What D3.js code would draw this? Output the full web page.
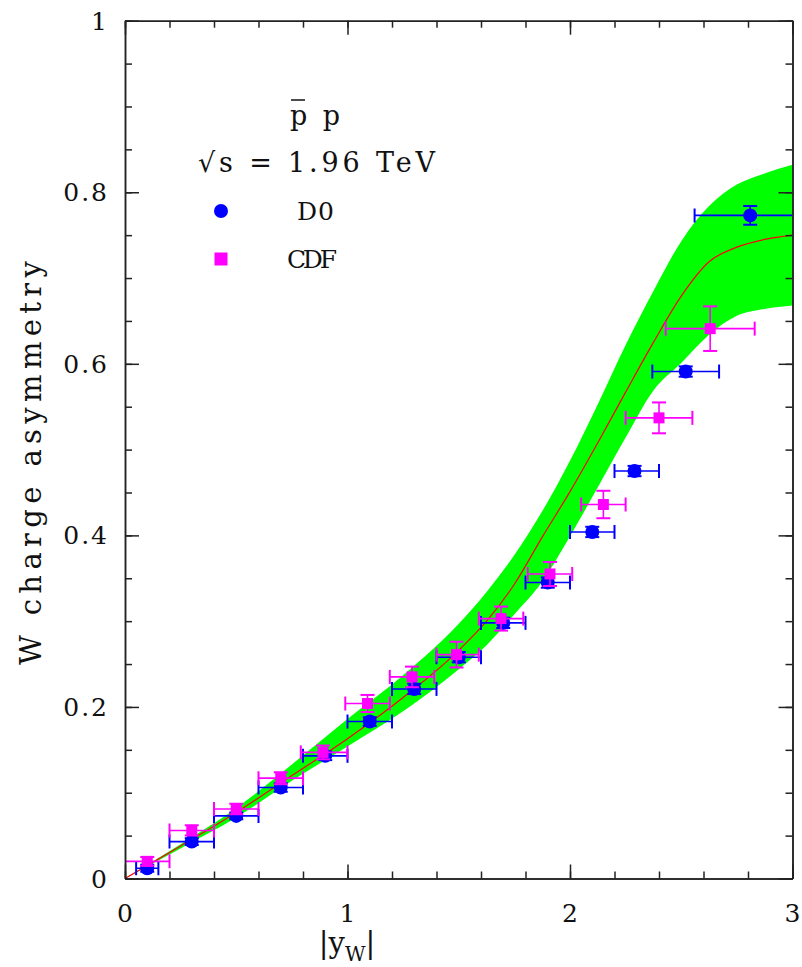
<!DOCTYPE html>
<html>
<head>
<meta charset="utf-8">
<script src="https://cdn.jsdelivr.net/npm/d3@7"></script>
<style>
  body { margin: 0; background: #fff; }
</style>
</head>
<body>
<div id="chart"></div>
<script>
// theory curve and its uncertainty band
var yw_grid   = [0, 0.25, 0.5, 0.75, 1.0, 1.25, 1.5, 1.625, 1.75, 1.875, 2.0, 2.125, 2.25, 2.375, 2.5, 2.625, 2.75, 2.875, 3.0];
var asym_mid  = [0, 0.038, 0.077, 0.120, 0.163, 0.211, 0.266, 0.300, 0.343, 0.398, 0.451, 0.508, 0.567, 0.625, 0.679, 0.719, 0.736, 0.745, 0.750];
var asym_high = [0, 0.040, 0.082, 0.133, 0.186, 0.237, 0.297, 0.334, 0.377, 0.428, 0.487, 0.553, 0.622, 0.685, 0.743, 0.784, 0.809, 0.822, 0.832];
var asym_low  = [0, 0.035, 0.071, 0.114, 0.154, 0.195, 0.244, 0.272, 0.308, 0.346, 0.399, 0.456, 0.514, 0.569, 0.601, 0.634, 0.656, 0.664, 0.668];

// D0 points: x, x range, asymmetry, error
var d0_x    = [0.10, 0.30, 0.50, 0.70, 0.90, 1.10, 1.30, 1.50, 1.70, 1.90, 2.10, 2.29, 2.52, 2.81];
var d0_xlo  = [0.05, 0.20, 0.40, 0.60, 0.80, 1.00, 1.20, 1.40, 1.60, 1.80, 2.00, 2.20, 2.37, 2.56];
var d0_xhi  = [0.15, 0.40, 0.60, 0.80, 1.00, 1.20, 1.40, 1.60, 1.80, 2.00, 2.20, 2.40, 2.67, 3.20];
var d0_y    = [0.012, 0.043, 0.073, 0.106, 0.143, 0.183, 0.221, 0.258, 0.298, 0.345, 0.404, 0.475, 0.591, 0.773];
var d0_err  = [0.004, 0.004, 0.004, 0.005, 0.005, 0.005, 0.006, 0.006, 0.006, 0.006, 0.006, 0.006, 0.006, 0.011];

// CDF points
var cdf_x   = [0.10, 0.30, 0.50, 0.70, 0.89, 1.09, 1.29, 1.49, 1.69, 1.91, 2.15, 2.40, 2.63];
var cdf_xlo = [0.00, 0.20, 0.40, 0.60, 0.79, 0.99, 1.19, 1.40, 1.59, 1.81, 2.05, 2.25, 2.43];
var cdf_xhi = [0.20, 0.40, 0.60, 0.80, 1.00, 1.19, 1.39, 1.59, 1.79, 2.01, 2.25, 2.55, 2.83];
var cdf_y   = [0.020, 0.056, 0.081, 0.117, 0.147, 0.204, 0.235, 0.261, 0.303, 0.355, 0.436, 0.537, 0.641];
var cdf_err = [0.005, 0.006, 0.006, 0.007, 0.008, 0.010, 0.012, 0.015, 0.014, 0.014, 0.016, 0.018, 0.026];

var xTickLabels = ["0", "1", "2", "3"];
var yTickLabels = ["0", "0.2", "0.4", "0.6", "0.8", "1"];

var W = 802, H = 967;
var svg = d3.select("#chart").append("svg")
  .attr("width", W).attr("height", H)
  .attr("font-family", "'DejaVu Serif', 'Liberation Serif', serif")
  .attr("fill", "#111");

var x = d3.scaleLinear().domain([0, 3]).range([125, 792.5]);
var y = d3.scaleLinear().domain([0, 1]).range([878.5, 20.7]);

svg.append("defs").append("clipPath").attr("id", "clip")
  .append("rect")
    .attr("x", x(0)).attr("y", y(1))
    .attr("width", x(3) - x(0)).attr("height", y(0) - y(1));

var plot = svg.append("g").attr("clip-path", "url(#clip)");

var band = yw_grid.map(function(v, i) { return {x: v, lo: asym_low[i], hi: asym_high[i], mid: asym_mid[i]}; });

plot.append("path")
  .datum(band)
  .attr("fill", "#00ff00")
  .attr("d", d3.area().curve(d3.curveMonotoneX)
    .x(function(d) { return x(d.x); })
    .y0(function(d) { return y(d.lo); })
    .y1(function(d) { return y(d.hi); }));

plot.append("path")
  .datum(band)
  .attr("fill", "none")
  .attr("stroke", "#ff0000")
  .attr("stroke-width", 1.2)
  .attr("d", d3.line().curve(d3.curveMonotoneX)
    .x(function(d) { return x(d.x); })
    .y(function(d) { return y(d.mid); }));

// error bars with caps
function errorBars(xs, xlo, xhi, ys, err, color) {
  var g = plot.append("g").attr("stroke", color).attr("stroke-width", 1.6).attr("fill", "none");
  var cap = 7;
  xs.forEach(function(v, i) {
    var cx = x(v), cy = y(ys[i]);
    g.append("line").attr("x1", x(xlo[i])).attr("x2", x(xhi[i])).attr("y1", cy).attr("y2", cy);
    g.append("line").attr("x1", x(xlo[i])).attr("x2", x(xlo[i])).attr("y1", cy - cap).attr("y2", cy + cap).attr("stroke-width", 2);
    g.append("line").attr("x1", x(xhi[i])).attr("x2", x(xhi[i])).attr("y1", cy - cap).attr("y2", cy + cap).attr("stroke-width", 2);
    g.append("line").attr("x1", cx).attr("x2", cx).attr("y1", y(ys[i] - err[i])).attr("y2", y(ys[i] + err[i]));
    g.append("line").attr("x1", cx - cap).attr("x2", cx + cap).attr("y1", y(ys[i] - err[i])).attr("y2", y(ys[i] - err[i])).attr("stroke-width", 2);
    g.append("line").attr("x1", cx - cap).attr("x2", cx + cap).attr("y1", y(ys[i] + err[i])).attr("y2", y(ys[i] + err[i])).attr("stroke-width", 2);
  });
}

errorBars(d0_x, d0_xlo, d0_xhi, d0_y, d0_err, "#0000ff");
plot.selectAll("circle.d0")
  .data(d0_x)
  .enter()
  .append("circle")
    .attr("class", "d0")
    .attr("cx", function(d) { return x(d); })
    .attr("cy", function(d, i) { return y(d0_y[i]); })
    .attr("r", 7)
    .attr("fill", "#0000ff");

errorBars(cdf_x, cdf_xlo, cdf_xhi, cdf_y, cdf_err, "#ff00ff");
var sq = 11;
plot.selectAll("rect.cdf")
  .data(cdf_x)
  .enter()
  .append("rect")
    .attr("class", "cdf")
    .attr("x", function(d) { return x(d) - sq / 2; })
    .attr("y", function(d, i) { return y(cdf_y[i]) - sq / 2; })
    .attr("width", sq).attr("height", sq)
    .attr("fill", "#ff00ff");

// frame with inward ticks on all four sides
var xMajor = [0, 1, 2, 3];
var xMinor = d3.range(0, 3.001, 0.2);
var yMajor = [0, 0.2, 0.4, 0.6, 0.8, 1];
var yMinor = d3.range(0, 1.001, 0.05);

function tickAxis(axis, scale, values, size, tr) {
  var g = svg.append("g").attr("transform", tr)
    .call(axis(scale).tickValues(values).tickSize(-size).tickSizeOuter(0).tickFormat(""));
  g.selectAll("line").attr("stroke", "#222").attr("stroke-width", 1.5);
  g.select(".domain").attr("stroke", "#222").attr("stroke-width", 1.5);
}
tickAxis(d3.axisBottom, x, xMinor, 7, "translate(0," + y(0) + ")");
tickAxis(d3.axisBottom, x, xMajor, 14, "translate(0," + y(0) + ")");
tickAxis(d3.axisTop, x, xMinor, 7, "translate(0," + y(1) + ")");
tickAxis(d3.axisTop, x, xMajor, 14, "translate(0," + y(1) + ")");
tickAxis(d3.axisLeft, y, yMinor, 7, "translate(" + x(0) + ",0)");
tickAxis(d3.axisLeft, y, yMajor, 14, "translate(" + x(0) + ",0)");
tickAxis(d3.axisRight, y, yMinor, 7, "translate(" + x(3) + ",0)");
tickAxis(d3.axisRight, y, yMajor, 14, "translate(" + x(3) + ",0)");

// tick labels
svg.selectAll("text.xlab")
  .data(xTickLabels)
  .enter()
  .append("text")
    .attr("class", "xlab")
    .attr("x", function(d, i) { return x(xMajor[i]); })
    .attr("y", 922)
    .attr("text-anchor", "middle")
    .style("font-size", "25px")
    .text(function(d) { return d; });

svg.selectAll("text.ylab")
  .data(yTickLabels)
  .enter()
  .append("text")
    .attr("class", "ylab")
    .attr("x", 107)
    .attr("y", function(d, i) { return y(yMajor[i]) + 9; })
    .attr("text-anchor", "end")
    .style("font-size", "25px")
    .style("letter-spacing", function(d) { return d.length > 1 ? "2px" : "0px"; })
    .attr("dx", function(d) { return d.length > 1 ? 2 : 0; })
    .text(function(d) { return d; });

// axis titles
svg.append("text")
  .attr("transform", "translate(41,665) rotate(-90)")
  .attr("textLength", 404)
  .attr("lengthAdjust", "spacing")
  .style("font-size", "29px")
  .text("W charge asymmetry");

var xt = svg.append("text")
  .attr("x", 347).attr("y", 953)
  .attr("text-anchor", "middle")
  .style("font-size", "29px");
xt.append("tspan").text("|y");
xt.append("tspan").attr("dy", 8).style("font-size", "20px").text("W");
xt.append("tspan").attr("dy", -8).text("|");

// legend
svg.append("text")
  .attr("x", 290).attr("y", 125)
  .attr("textLength", 50).attr("lengthAdjust", "spacing")
  .style("font-size", "27px")
  .text("p p");
svg.append("line")
  .attr("x1", 291).attr("x2", 305).attr("y1", 100).attr("y2", 100)
  .attr("stroke", "#111").attr("stroke-width", 1.5);

svg.append("text")
  .attr("x", 198).attr("y", 172)
  .attr("textLength", 237).attr("lengthAdjust", "spacing")
  .style("font-size", "27px")
  .text("\u221As = 1.96 TeV");

svg.append("circle").attr("cx", 221).attr("cy", 211).attr("r", 7).attr("fill", "#0000ff");
svg.append("text")
  .attr("x", 297).attr("y", 220)
  .attr("textLength", 37).attr("lengthAdjust", "spacing")
  .style("font-size", "25px")
  .text("D0");

svg.append("rect").attr("x", 214.5).attr("y", 252.5).attr("width", 13).attr("height", 13).attr("fill", "#ff00ff");
svg.append("text")
  .attr("x", 287).attr("y", 268)
  .attr("textLength", 50).attr("lengthAdjust", "spacing")
  .style("font-size", "25px")
  .text("CDF");
</script>
</body>
</html>
